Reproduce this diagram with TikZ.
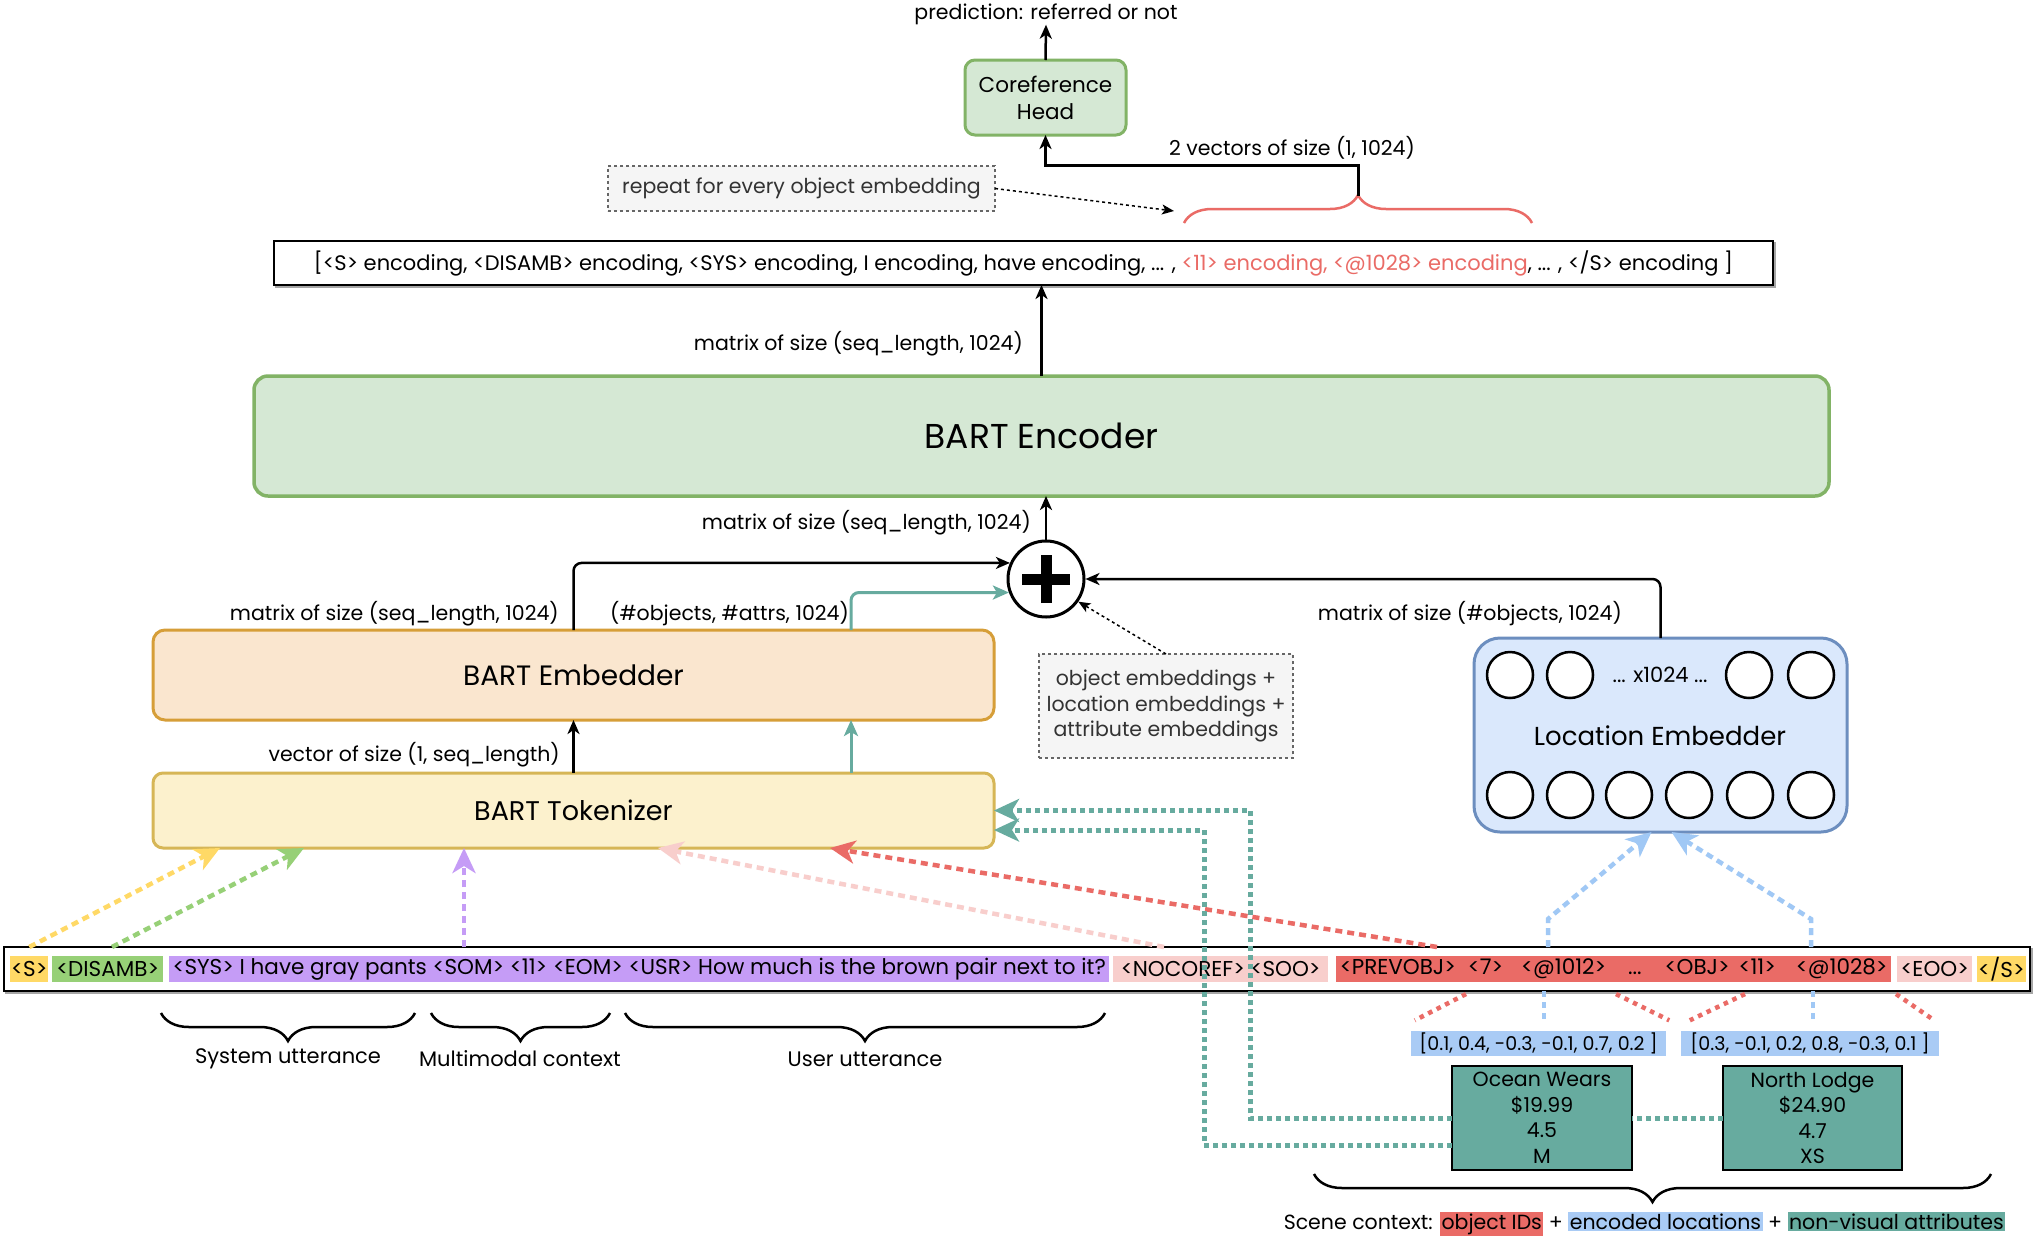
\documentclass[tikz,border=0pt]{standalone}
\usepackage{fontspec}
\setmainfont{Poppins}
\usetikzlibrary{arrows.meta,decorations.pathreplacing,calc}
\definecolor{encF}{HTML}{D5E8D4}
\definecolor{encD}{HTML}{82B366}
\definecolor{embF}{HTML}{FAE6CF}
\definecolor{embD}{HTML}{D69E38}
\definecolor{tokF}{HTML}{FCF1CD}
\definecolor{tokD}{HTML}{D6B656}
\definecolor{locF}{HTML}{DAE8FC}
\definecolor{locD}{HTML}{6C8EBF}
\definecolor{tealC}{HTML}{67AB9F}
\definecolor{redC}{HTML}{EA6B66}
\definecolor{pinkC}{HTML}{F8CECC}
\definecolor{yelC}{HTML}{FFD966}
\definecolor{grnC}{HTML}{97D077}
\definecolor{purC}{HTML}{C59CF6}
\definecolor{bluC}{HTML}{A9CBF5}
\definecolor{bluA}{HTML}{A0C8F5}
\definecolor{noteF}{HTML}{F5F5F5}
\definecolor{noteD}{HTML}{666666}
\definecolor{noteT}{HTML}{333333}
\tikzset{
  lbl/.style={inner sep=0pt, font=\fontsize{20.5}{24}\selectfont},
  boxn/.style={draw, inner sep=0pt, outer sep=0pt, align=center},
  greenbox/.style={boxn, fill=encF, draw=encD, line width=3pt, rounded corners=10pt},
  notebox/.style={boxn, fill=noteF, draw=noteD, dashed, line width=1.5pt, text=noteT, font=\fontsize{20.5}{24}\selectfont},
  plainbox/.style={boxn, fill=white, draw=black, line width=1.5pt},
  neuron/.style={circle, draw=black, fill=white, line width=2.5pt, minimum size=46pt, inner sep=0pt},
  tokn/.style={anchor=west, inner xsep=1pt, inner ysep=0pt, minimum height=26pt, font=\fontsize{21.5}{24}\selectfont},
  vecn/.style={inner sep=0pt, minimum height=25pt, fill=bluC, font=\fontsize{19}{24}\selectfont},
  objn/.style={boxn, fill=tealC, draw=black, line width=1.5pt, minimum width=180pt, minimum height=104pt, font=\fontsize{20.5}{25.5}\selectfont},
  blk/.style={line width=2.5pt, -{Stealth[length=14pt,width=12pt,inset=4pt]}},
  tarr/.style={tealC, line width=3pt, -{Stealth[length=16pt,width=14pt,inset=4pt]}},
  dsharr/.style={line width=1.5pt, dashed, -{Stealth[length=12pt,width=10pt,inset=3pt]}},
  cdash/.style={line width=4.5pt, dash pattern=on 7pt off 5pt, -{Stealth[length=25pt,width=23pt,inset=7pt]}},
  tdot/.style={tealC, line width=5pt, dash pattern=on 5pt off 4pt},
  tdotarr/.style={tdot, -{Stealth[length=25pt,width=23pt,inset=7pt]}},
  rdot/.style={redC, line width=4.5pt, dash pattern=on 4.5pt off 5pt},
  bdot/.style={bluA, line width=4.5pt, dash pattern=on 6pt off 5pt},
  brc/.style={line width=2.5pt, decorate, decoration={brace, amplitude=28pt, mirror}},
}
\begin{document}
\begin{tikzpicture}[x=1pt,y=1pt]
\useasboundingbox (0,0) rectangle (2034,-1240);
\fill[white] (0,0) rectangle (2034,-1240);

% --- top: coreference head
\node[lbl] (pred) at (1046,-14) {prediction: referred or not};
\node[greenbox, minimum width=161pt, minimum height=75pt, font=\fontsize{21.5}{27}\selectfont] (coref) at (1045.5,-97.5) {Coreference\\Head};
\draw[blk] (coref.north) -- (pred.south);

\node[notebox, minimum width=387pt, minimum height=45pt] (rep) at (801.5,-188.5) {repeat for every object embedding};
\coordinate (repend) at (1174,-211);
\draw[dsharr] (rep.east) -- (repend);

\draw[redC, line width=2.5pt, decorate, decoration={brace, amplitude=28pt}] (1184,-223) -- (1532,-223);
\coordinate (bt) at (1358,-196);
\draw[blk, line width=3pt] (bt) -- ++(0,31) -| (coref.south);
\node[lbl] (vec2) at (1292,-148) {2 vectors of size (1, 1024)};

% --- encoding list
\draw[gray!70, line width=1.5pt] (276,-243) rectangle (1775,-287);
\node[plainbox, minimum width=1499pt, minimum height=44pt, font=\fontsize{21}{24}\selectfont] (encod) at (1023.5,-263) {[<S> encoding, <DISAMB> encoding, <SYS> encoding, I encoding, have encoding, ... , \textcolor{redC}{<11> encoding, <@1028> encoding}, ... , </S> encoding ]};

% --- encoder
\node[greenbox, line width=3.5pt, rounded corners=14pt, minimum width=1575pt, minimum height=120pt, font=\fontsize{34.5}{40}\selectfont] (enc) at (1041.5,-436) {BART Encoder};
\draw[blk] (enc.north) -- (enc.north |- encod.south);
\node[lbl, anchor=east] (m1) at (1023,-344) {matrix of size (seq\_length, 1024)};

% --- plus
\node[circle, draw, line width=3pt, minimum size=76pt, inner sep=0pt, fill=white] (plus) at (1046,-579) {};
\draw[line width=11pt] (plus.center) ++(-24,0) -- ++(48,0);
\draw[line width=11pt] (plus.center) ++(0,-24) -- ++(0,48);
\draw[blk] (plus.north) -- (plus.north |- enc.south);
\node[lbl, anchor=east] (m2) at (1031,-523) {matrix of size (seq\_length, 1024)};

% --- embedder / tokenizer
\node[boxn, fill=embF, draw=embD, line width=3pt, rounded corners=12pt, minimum width=841pt, minimum height=90pt, font=\fontsize{28}{32}\selectfont] (emb) at (573.5,-675) {BART Embedder};
\node[boxn, fill=tokF, draw=tokD, line width=3pt, rounded corners=10pt, minimum width=841pt, minimum height=75pt, font=\fontsize{27}{32}\selectfont] (tok) at (573.5,-810.5) {BART Tokenizer};

\draw[blk, rounded corners=8pt] (emb.north) |- (plus.156);
\draw[tarr, rounded corners=8pt] ($(emb.north east)+(-143,0)$) |- (plus.200);
\node[lbl, anchor=east] (m3) at (559,-614) {matrix of size (seq\_length, 1024)};
\node[lbl, anchor=west] (m4) at (610,-614) {(\#objects, \#attrs, 1024)};
\draw[blk] (tok.north) -- (emb.south);
\draw[tarr] ($(tok.north east)+(-143,0)$) -- ($(emb.south east)+(-143,0)$);
\node[lbl, anchor=east] (m5) at (560,-755) {vector of size (1, seq\_length)};

% --- object embeddings note
\node[notebox, minimum width=254pt, minimum height=104pt, font=\fontsize{20.5}{25.5}\selectfont] (objemb) at (1166,-706) {object embeddings +\\location embeddings +\\attribute embeddings};
\draw[dsharr] (objemb.north) -- (plus.-35);

% --- location embedder
\node[boxn, fill=locF, draw=locD, line width=3pt, rounded corners=26pt, minimum width=373pt, minimum height=194pt] (loc) at (1660.5,-735) {};
\node[font=\fontsize{26}{30}\selectfont, inner sep=0pt] (loclbl) at (1660,-736) {Location Embedder};
\foreach \x [count=\i] in {1510,1570,1749,1811} \node[neuron] (t\i) at (\x,-675) {};
\foreach \x [count=\i] in {1510,1570,1629,1689,1750,1811} \node[neuron] (b\i) at (\x,-795) {};
\node[lbl, font=\fontsize{21}{24}\selectfont] (dots) at (1660,-675) {... x1024 ...};
\draw[blk, rounded corners=8pt] (loc.north) |- (plus.east);
\node[lbl, anchor=east] (m6) at (1622,-614) {matrix of size (\#objects, 1024)};

% --- token row
\draw[gray!70, line width=1.5pt] (6,-949) rectangle (2032,-993);
\node[plainbox, minimum width=2026pt, minimum height=44pt] (row) at (1017,-969) {};
\node[tokn, fill=yelC, minimum width=37pt] (tS) at (10,-969) {<S>};
\node[tokn, fill=grnC, minimum width=111pt] (tD) at (52,-969) {<DISAMB>};
\node[tokn, fill=purC, minimum width=940pt] (tU) at (169,-969) {<SYS> I have gray pants <SOM> <11> <EOM> <USR> How much is the brown pair next to it?};
\node[tokn, fill=pinkC, minimum width=215pt] (tN) at (1113,-969) {<NOCOREF> <SOO>};
\node[tokn, fill=redC, minimum width=555pt] (tO) at (1336,-969) {<PREVOBJ>\hspace{12pt}<7>\hspace{18pt}<@1012>\hspace{22pt}...\hspace{23pt}<OBJ>\hspace{9pt}<11>\hspace{20pt}<@1028>};
\node[tokn, fill=pinkC, minimum width=75pt] (tE) at (1897,-969) {<EOO>};
\node[tokn, fill=yelC, minimum width=45pt] (tZ) at (1977,-969) {</S>};

% --- coloured arrows into tokenizer
\draw[cdash, yelC] (tS |- row.north) -- ($(tok.south west)+(67,0)$);
\draw[cdash, grnC] ($(row.north west)+(108,0)$) -- ($(tok.south west)+(151,0)$);
\draw[cdash, purC] ($(row.north west)+(460,0)$) -- ($(tok.south west)+(311,0)$);
\draw[cdash, pinkC] ($(row.north west)+(1160,0)$) -- ($(tok.south west)+(505,0)$);
\draw[cdash, redC] ($(row.north west)+(1433,0)$) -- ($(tok.south west)+(677,0)$);

% --- utterance braces
\draw[brc] (161,-1013) -- (415,-1013);
\draw[brc] (431,-1013) -- (610,-1013);
\draw[brc] (625,-1013) -- (1105,-1013);
\node[lbl, font=\fontsize{21}{24}\selectfont] (su) at (288,-1059) {System utterance};
\node[lbl, font=\fontsize{21}{24}\selectfont] (mc) at (520,-1059) {Multimodal context};
\node[lbl, font=\fontsize{21}{24}\selectfont] (uu) at (865,-1059) {User utterance};

% --- location vectors
\node[vecn, minimum width=255pt] (v1) at (1538.5,-1043) {[0.1, 0.4, -0.3, -0.1, 0.7, 0.2 ]};
\node[vecn, minimum width=258pt] (v2) at (1810,-1043) {[0.3, -0.1, 0.2, 0.8, -0.3, 0.1 ]};
\draw[rdot] ($(row.south west)+(1462,-3)$) -- ($(v1.north west)+(4,10)$);
\draw[rdot] ($(row.south west)+(1612,-3)$) -- ($(v1.north east)+(3,10)$);
\draw[rdot] ($(row.south west)+(1741,-3)$) -- ($(v2.north west)+(9,10)$);
\draw[rdot] ($(row.south west)+(1892,-3)$) -- ($(v2.north east)+(-5,10)$);
\draw[bdot] ($(row.south west)+(1540,0)$) -- ($(row.south west)+(1540,-31)$);
\draw[bdot] ($(row.south west)+(1809,0)$) -- ($(row.south west)+(1809,-31)$);

% --- blue arrows into location embedder
\draw[bluA, line width=4.5pt, dash pattern=on 7pt off 5pt, -{Stealth[length=25pt,width=23pt,inset=7pt]}] ($(row.north west)+(1544,0)$) -- ++(0,28) -- ($(loc.south)+(-9,0)$);
\draw[bluA, line width=4.5pt, dash pattern=on 7pt off 5pt, -{Stealth[length=25pt,width=23pt,inset=7pt]}] ($(row.north west)+(1807,0)$) -- ++(0,28) -- ($(loc.south)+(11,0)$);

% --- objects
\node[objn] (ocean) at (1542,-1118) {Ocean Wears\\\$19.99\\4.5\\M};
\node[objn, minimum width=179pt] (north) at (1812.5,-1118) {North Lodge\\\$24.90\\4.7\\XS};
\draw[tdot] (north.west) -- (ocean.east);
\draw[tdotarr] (ocean.west) -- ++(-202,0) |- (tok.east);
\draw[tdotarr] ($(ocean.south west)+(0,25)$) -- ++(-248,0) |- ($(tok.east)+(0,-19.5)$);

% --- scene context
\draw[brc] (1314,-1174) -- (1991,-1174);
\node[lbl, font=\fontsize{20.5}{24}\selectfont] (scene) at (1644.5,-1224) {\setlength{\fboxsep}{1.5pt}Scene context: \colorbox{redC}{object IDs} + \colorbox{bluC}{encoded locations} + \colorbox{tealC}{non-visual attributes}};
\end{tikzpicture}
\end{document}
